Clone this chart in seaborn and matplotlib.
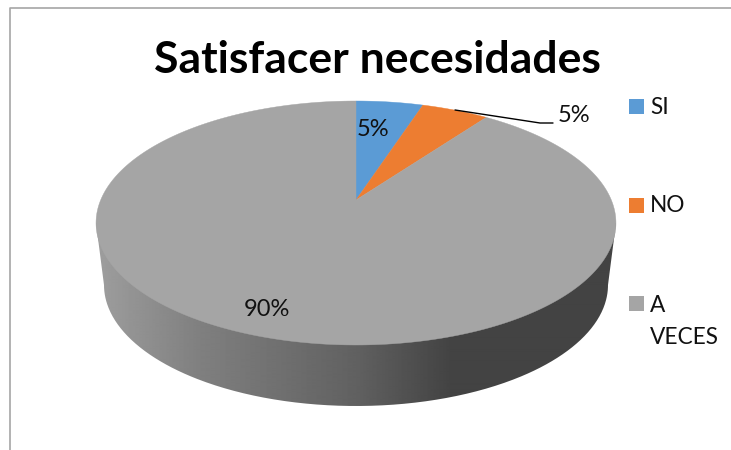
import numpy as np
import matplotlib
matplotlib.use("Agg")
import matplotlib.pyplot as plt
from matplotlib.patches import PathPatch, Polygon, Rectangle
from matplotlib.path import Path
import seaborn as sns

categories = ["SI", "NO", "A\nVECES"]
values = [5, 5, 90]
value_labels = ["5%", "5%", "90%"]
colors = ["#5B9BD5", "#ED7D31", "#A5A5A5"]
title = "Satisfacer necesidades"

sns.set_theme(style="white")
plt.rcParams["font.family"] = ["Lato", "DejaVu Sans"]

fig = plt.figure(figsize=(7.31, 4.5), dpi=100, facecolor="white")
ax = fig.add_axes([0, 0, 1, 1])
ax.set_xlim(0, 731)
ax.set_ylim(450, 0)
ax.axis("off")

# perspective projection of the unit pie onto the picture plane
CX, CY = 356, 200
A, B, K = 255.3, 117.66, 0.1885


def project(theta):
    s, c = np.sin(theta), np.cos(theta)
    w = 1 + K * c
    return CX + A * s / w, CY - B * c / w


# side wall
low_t = np.linspace(np.pi, 0, 361)
bx = 356 + 252 * np.cos(low_t)
by = 285 + 121 * np.sin(low_t)
wall = np.column_stack([
    np.r_[96, bx, 616],
    np.r_[223, by, 223],
])
stops_x = [96, 200, 356, 450, 616]
stops_v = [0.62, 0.50, 0.38, 0.265, 0.265]
ramp = np.interp(np.arange(90, 623), stops_x, stops_v)[None, :]
img = ax.imshow(ramp, extent=(90, 623, 410, 215), cmap="gray", vmin=0, vmax=1,
                aspect="auto", zorder=1, interpolation="bilinear")
clip = PathPatch(Path(wall, closed=False), transform=ax.transData, fc="none", ec="none")
ax.add_patch(clip)
img.set_clip_path(clip)
ax.set_xlim(0, 731)
ax.set_ylim(450, 0)

# top face
fractions = np.cumsum([0] + values) / sum(values) * 2 * np.pi
for start, end, col in zip(fractions[:-1], fractions[1:], colors):
    a = np.linspace(start, end, max(int(np.degrees(end - start)) * 2, 2) + 1)
    x, y = project(a)
    ax.add_patch(Polygon(np.column_stack([np.r_[CX, x], np.r_[CY, y]]),
                         closed=True, fc=col, ec=col, lw=0.3, zorder=2))

# chart-area frame
ax.plot([10, 10, 731], [450, 7.5, 7.5], color="#A6A6A6", lw=1.2, zorder=0, clip_on=False)

# title
ax.text(377, 60, title, fontsize=32, fontweight="bold", color="black",
        ha="center", va="center", zorder=5)

# data labels
label_xy = [(373, 129), (574, 116), (267, 309)]
for (lx, ly), lab in zip(label_xy, value_labels):
    ax.text(lx, ly, lab, fontsize=17, color="#111111", ha="center", va="center", zorder=5)

# leader line
ax.plot([455, 540, 553], [110, 123, 123], color="black", lw=1, zorder=4)

# legend, laid out by hand because the last entry wraps onto a second line
for top, line_y, lab, col in zip([99, 198, 296], [107, 205, 306], categories, colors):
    ax.add_patch(Rectangle((629, top), 15, 15, fc=col, ec="none", zorder=5))
    for i, part in enumerate(lab.split("\n")):
        ax.text(650, line_y + 31 * i, part, fontsize=16.3, color="#111111",
                ha="left", va="center", zorder=5)

fig.savefig("out.png", dpi=100, facecolor="white")
